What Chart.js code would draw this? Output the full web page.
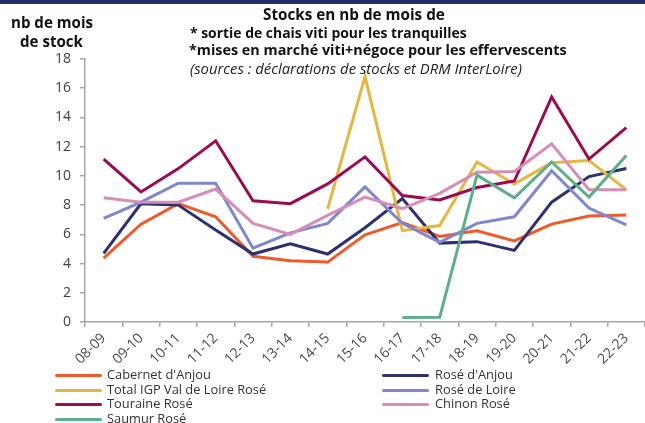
<!DOCTYPE html>
<html>
<head>
<meta charset="utf-8">
<script src="https://cdn.jsdelivr.net/npm/chart.js@4.4.1/dist/chart.umd.min.js"></script>
<style>
  html, body { margin: 0; padding: 0; background: #fff; }
  body { width: 645px; height: 423px; overflow: hidden; position: relative; font-family: "Open Sans", "Noto Sans", sans-serif; }
  #band { position: absolute; left: 0; top: 0; width: 645px; height: 4px; background: #24306a; }
  #wrap { position: absolute; left: 0; top: 0; width: 645px; height: 423px; }
  .txt { position: absolute; white-space: nowrap; line-height: 1; color: #111; }
  .b { font-weight: 700; }
  .i { font-style: italic; color: #222; }
  .leg { position: absolute; height: 3px; border-radius: 1.5px; }
  .legt { position: absolute; white-space: nowrap; line-height: 1; color: #333; font-size: 13px; }
</style>
</head>
<body>
<div id="band"></div>
<div id="wrap"><canvas id="c" width="645" height="423"></canvas></div>
<div id="overlay"></div>
<script>
// ---- data ----
const categories = ['08-09','09-10','10-11','11-12','12-13','13-14','14-15','15-16','16-17','17-18','18-19','19-20','20-21','21-22','22-23'];
const cabernetAnjou = [4.37, 6.7, 8.1, 7.2, 4.5, 4.2, 4.1, 5.97, 6.8, 5.85, 6.25, 5.55, 6.7, 7.25, 7.33];
const roseAnjou     = [4.7, 8.1, 8.0, 6.3, 4.65, 5.35, 4.65, 6.45, 8.45, 5.4, 5.5, 4.9, 8.2, 9.95, 10.5];
const totalIGP      = [null, null, null, null, null, null, 7.75, 16.8, 6.25, 6.6, 10.95, 9.45, 10.9, 11.05, 9.05];
const roseLoire     = [7.1, 8.2, 9.5, 9.5, 5.05, 6.1, 6.75, 9.25, 6.75, 5.45, 6.75, 7.2, 10.35, 7.8, 6.65];
const touraineRose  = [11.15, 8.9, 10.5, 12.4, 8.3, 8.1, 9.45, 11.3, 8.65, 8.35, 9.2, 9.65, 15.4, 11.15, 13.3];
const chinonRose    = [8.5, 8.2, 8.2, 9.1, 6.75, 6.0, 7.3, 8.55, 7.75, 8.8, 10.25, 10.3, 12.2, 9.05, 9.05];
const saumurRose    = [null, null, null, null, null, null, null, null, 0.3, 0.32, 10.05, 8.5, 10.95, 8.55, 11.4];
const seriesNames = ["Cabernet d'Anjou", "Rosé d'Anjou", "Total IGP Val de Loire Rosé", "Rosé de Loire", "Touraine Rosé", "Chinon Rosé", "Saumur Rosé"];
const seriesValues = [cabernetAnjou, roseAnjou, totalIGP, roseLoire, touraineRose, chinonRose, saumurRose];
const yTicks = [0, 2, 4, 6, 8, 10, 12, 14, 16, 18];

// ---- styles ----
const colors = ['#ee5a2b', '#2b3170', '#e4b743', '#7e87d0', '#9c0b4f', '#d68db6', '#5dae8a'];

const datasets = seriesNames.map((name, i) => ({
  label: name,
  data: seriesValues[i],
  borderColor: colors[i],
  backgroundColor: colors[i],
  borderWidth: 3,
  pointRadius: 0,
  pointHoverRadius: 0,
  tension: 0,
  fill: false,
  order: seriesNames.length - i
}));

const axisColor = '#a6a6a6';
const chart = new Chart(document.getElementById('c'), {
  type: 'line',
  data: { labels: categories, datasets },
  options: {
    responsive: false,
    animation: false,
    devicePixelRatio: 1,
    layout: { padding: { top: 59, left: 0, right: 0, bottom: 0 } },
    plugins: { legend: { display: false }, title: { display: false }, tooltip: { enabled: false } },
    scales: {
      x: {
        offset: true,
        grid: { offset: true, drawOnChartArea: false, tickLength: 5, color: axisColor, lineWidth: 1.5 },
        border: { color: axisColor, width: 1.5 },
        ticks: { minRotation: 45, maxRotation: 45, autoSkip: false, color: '#4a4a4a', padding: 3,
                 font: { family: '"Open Sans", sans-serif', size: 14 } },
        afterFit: s => { s.height = 101; }
      },
      y: {
        min: 0, max: 18,
        afterBuildTicks: s => { s.ticks = yTicks.map(v => ({ value: v })); },
        grid: { drawOnChartArea: false, tickLength: 5, color: axisColor, lineWidth: 1.5 },
        border: { color: axisColor, width: 1.5 },
        ticks: { color: '#404040', padding: 9, font: { family: '"Open Sans", sans-serif', size: 14 } },
        afterFit: s => { s.width = 85; }
      }
    }
  }
});

// ---- overlay texts (title, axis title, legend) ----
const overlay = document.getElementById('overlay');
function addText(text, cls, size, left, width, cy) {
  const el = document.createElement('div');
  el.className = 'txt ' + cls;
  el.textContent = text;
  el.style.fontSize = size + 'px';
  overlay.appendChild(el);
  const w = el.getBoundingClientRect().width;
  const fs = size * width / w;
  el.style.fontSize = fs + 'px';
  el.style.left = left + 'px';
  el.style.top = (cy - fs * 0.55) + 'px';
  return el;
}
addText('nb de mois', 'b', 14, 11, 82, 23);
addText('de stock', 'b', 14, 20, 63, 42);
addText('Stocks en nb de mois de', 'b', 14, 263, 182, 15);
addText('* sortie de chais viti pour les tranquilles', 'b', 14, 190, 277, 34);
addText('*mises en marché viti+négoce pour les effervescents', 'b', 14, 189, 378, 51);
addText('(sources : déclarations de stocks et DRM InterLoire)', 'i', 13, 190, 332, 69);

// legend built from the chart datasets
const legRows = [375, 390, 404.5, 419];
const legEls = [];
chart.data.datasets.forEach((ds, i) => {
  const col = i % 2, row = Math.floor(i / 2);
  const lineLeft = col === 0 ? 55 : 382;
  const textLeft = col === 0 ? 107 : 435;
  const cy = legRows[row];
  const ln = document.createElement('div');
  ln.className = 'leg';
  ln.style.left = lineLeft + 'px';
  ln.style.width = '47px';
  ln.style.top = (cy - 1.5) + 'px';
  ln.style.background = ds.borderColor;
  overlay.appendChild(ln);
  const t = document.createElement('div');
  t.className = 'legt';
  t.textContent = ds.label;
  t.style.left = textLeft + 'px';
  overlay.appendChild(t);
  legEls.push({ el: t, cy });
});
// scale legend font so "Cabernet d'Anjou" spans ~104px as in the reference
const refW = legEls[0].el.getBoundingClientRect().width;
const legFs = 13 * 104 / refW;
legEls.forEach(({ el, cy }) => {
  el.style.fontSize = legFs + 'px';
  el.style.top = (cy - legFs * 0.58) + 'px';
});
</script>
</body>
</html>
